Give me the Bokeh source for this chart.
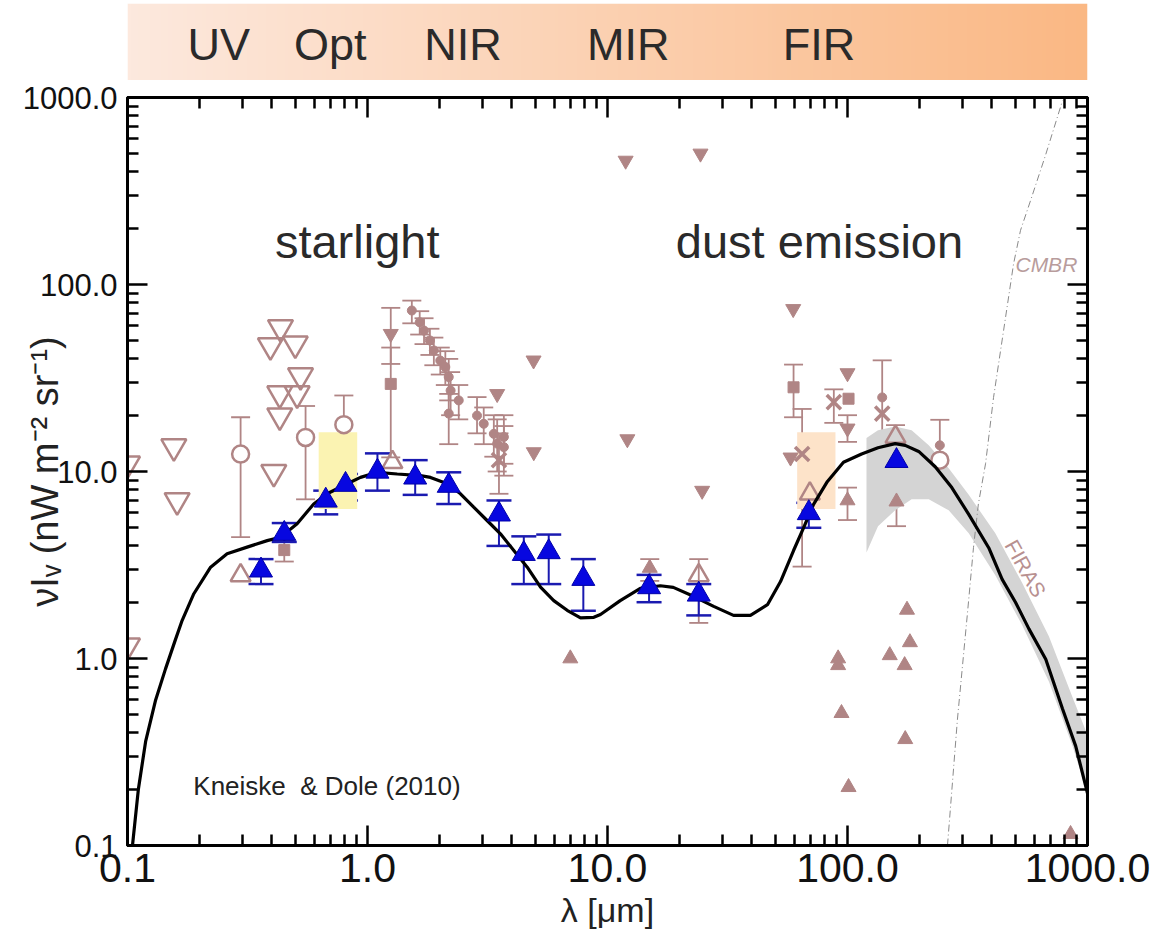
import numpy as np
from math import pi
from bokeh.plotting import figure
from bokeh.layouts import column
from bokeh.models import (FixedTicker, PrintfTickFormatter, LogAxis, Whisker, TeeHead,
                          ColumnDataSource, Label, CustomJSTickFormatter)
from bokeh.embed import file_html
from bokeh.resources import INLINE

# ------------------------------------------------------------------ data
band_labels = ["UV", "Opt", "NIR", "MIR", "FIR"]
band_label_wl = [0.24, 0.70, 2.5, 12.2, 76.0]

x_ticks = [0.1, 1.0, 10.0, 100.0, 1000.0]
y_ticks = [0.1, 1.0, 10.0, 100.0, 1000.0]

# EBL model curve (Kneiske & Dole 2010)
model_wl = [0.104, 0.111, 0.119, 0.131, 0.144, 0.158, 0.169, 0.189, 0.222, 0.260,
            0.315, 0.382, 0.434, 0.509, 0.597, 0.679, 0.823, 0.935, 1.10, 1.33,
            1.66, 1.83, 2.15, 2.44, 2.77, 3.15, 3.58, 4.07, 4.63, 5.26,
            5.97, 6.79, 7.72, 8.77, 9.35, 11.3, 13.7, 16.6, 18.8, 22.8,
            27.7, 33.5, 39.4, 46.4, 52.6, 59.6, 65.6, 72.2, 82.5, 96.2,
            114.5, 134, 158, 174, 198, 232, 272, 320, 388, 441,
            501, 570, 670, 786, 893, 1000]
model_val = [0.09, 0.20, 0.36, 0.60, 0.88, 1.25, 1.60, 2.22, 3.08, 3.63,
             3.94, 4.27, 4.45, 5.25, 6.71, 7.6, 8.6, 9.3, 9.9, 9.7,
             9.5, 9.3, 8.6, 7.6, 6.45, 5.47, 4.64, 3.78, 3.08, 2.41,
             2.04, 1.81, 1.65, 1.66, 1.72, 2.04, 2.37, 2.45, 2.40, 2.15,
             1.90, 1.70, 1.70, 1.94, 2.58, 3.78, 5.0, 6.67, 8.85, 11.2,
             12.4, 13.4, 14.1, 13.8, 12.8, 10.6, 8.2, 5.9, 3.9, 2.65,
             2.0, 1.44, 0.99, 0.54, 0.34, 0.19]

# FIRAS band
firas_wl = [120, 134, 158, 185, 218, 264, 320, 413, 534, 691, 866, 1000]
firas_hi = [15.1, 16.6, 17.4, 16.6, 13.8, 10.4, 7.5, 4.67, 2.54, 1.31, 0.62, 0.39]
firas_lo = [3.69, 5.1, 6.2, 7.1, 7.1, 6.2, 4.67, 2.79, 1.51, 0.75, 0.34, 0.19]

# CMBR
cmb_wl = [261, 287, 316, 335, 351, 376, 406, 447, 492, 526, 579, 668, 787]
cmb_val = [0.1, 0.47, 1.74, 3.93, 6.7, 11.0, 24.9, 56.7, 129, 195, 281, 490, 963]

# lower limits (blue)
blue_wl = [0.36, 0.45, 0.67, 0.81, 1.10, 1.58, 2.18, 3.53, 4.48, 5.69, 7.93, 14.9, 24.0, 69.0, 160]
blue_val = [2.96, 4.65, 7.0, 8.5, 10.0, 9.3, 8.4, 5.9, 3.63, 3.71, 2.67, 2.41, 2.2, 6.0, 11.4]
blue_lo = [2.5, 4.2, 5.9, 7.0, 7.9, 7.5, 6.7, 4.0, 2.5, 2.5, 1.8, 2.0, 1.7, 5.0, 9.0]
blue_hi = [3.4, 5.3, 7.9, 9.7, 12.5, 11.5, 9.9, 7.0, 4.5, 4.6, 3.4, 2.8, 2.5, 6.8, 12.8]

# other measurements / limits (pink)
ocirc_wl = [0.296, 0.552, 0.797, 242.5]
ocirc_val = [12.4, 15.2, 17.8, 11.5]

odtri_wl = [0.1, 0.1, 0.156, 0.161, 0.407, 0.434, 0.394, 0.50, 0.526, 0.431, 0.509, 0.431]
odtri_val = [11.0, 1.17, 13.6, 7.0, 9.9, 59, 47.2, 48.2, 32.6, 26.1, 26.1, 19.9]

outri_wl = [0.296, 1.27, 24.0, 69.7, 158.5]
outri_val = [2.78, 11.2, 2.78, 7.6, 15.3]

dtri_wl = [11.9, 24.4, 4.92, 3.47, 4.93, 12.1, 24.8, 59.4, 1.25, 100, 57.9, 100]
dtri_val = [460, 502, 39.3, 26.0, 12.7, 14.9, 7.9, 74, 54.5, 33.6, 11.9, 17.0]

utri_wl = [7.0, 91.4, 91.4, 94.4, 101, 177, 182, 150, 173, 174, 100, 160, 15.0, 850]
utri_val = [1.0, 1.0, 0.92, 0.51, 0.205, 1.82, 1.22, 1.04, 0.92, 0.37, 7.0, 6.9, 3.05, 0.115]

cross_wl = [64.7, 87.7, 139.5, 3.53]
cross_val = [12.4, 23.5, 20.4, 11.5]

sq_wl = [1.25, 59.6, 101, 0.45]
sq_val = [29.4, 28.2, 24.5, 3.8]

dot_wl = [1.53, 1.65, 1.72, 1.82, 1.89, 2.01, 2.11, 2.18, 2.22, 2.40, 2.18, 2.86, 3.05,
          3.36, 3.47, 3.70, 3.70, 139.5, 242.5]
dot_val = [72.6, 62.8, 56.7, 50.2, 44.4, 39.2, 36.2, 32.0, 27.1, 24.0, 20.4, 19.9, 18.0,
           15.9, 14.1, 15.3, 13.5, 24.9, 13.8]

err_wl = [0.296, 0.552, 0.797, 242.5, 1.25, 59.6, 0.45, 64.7, 87.7, 3.53, 24.0, 158.5,
          69.7, 100, 160, 15.0, 100, 1.25,
          1.53, 1.65, 1.72, 1.82, 1.89, 2.01, 2.11, 2.18, 2.22, 2.40, 2.18, 2.86, 3.05,
          3.36, 3.47, 3.70, 3.70, 139.5]
err_lo = [4.46, 7.1, 8.9, 8.8, 11.9, 19.5, 3.3, 3.1, 18.2, 7.6, 1.55, 13.6,
          6.8, 5.5, 5.1, 2.6, 14.4, 37.6,
          62, 54, 48, 42, 37, 33, 29, 24, 20, 19, 14, 16, 14,
          12, 10, 11, 9.5, 8.8]
err_hi = [19.5, 22.4, 25.5, 18.9, 75, 37.3, 4.3, 21.6, 27.5, 16, 3.4, 17.7,
          8.2, 8.2, 9.0, 3.4, 20.0, 46,
          82, 72, 66, 58, 52, 46, 44, 40, 34, 29, 26, 25, 22,
          20, 19, 20, 17.5, 39.3]

yellow_box = (0.626, 0.906, 6.3, 16.2)
peach_box = (61.7, 89.1, 6.3, 16.2)

# ------------------------------------------------------------------ styles
PINK = "#b08585"
BLUE = "#0707e0"
FONT = "Liberation Sans"

# ------------------------------------------------------------------ band figure
band = figure(width=1150, height=80, x_axis_type="log", x_range=(0.1, 1000), y_range=(0, 1),
              output_backend="svg", toolbar_location=None,
              min_border_left=125, min_border_right=63, min_border_top=3, min_border_bottom=0)
band.axis.visible = False
band.grid.visible = False
band.outline_line_color = None
band.background_fill_color = "white"
band.border_fill_color = "white"

n = 256
t = np.linspace(0.0, 1.0, n)
c0 = np.array([253.0, 233.0, 222.0])
c1 = np.array([250.0, 184.0, 132.0])
rgb = c0[None, :] * (1 - t[:, None]) + c1[None, :] * t[:, None]
img = np.empty((1, n), dtype=np.uint32)
view = img.view(dtype=np.uint8).reshape((1, n, 4))
view[0, :, 0] = rgb[:, 0].astype(np.uint8)
view[0, :, 1] = rgb[:, 1].astype(np.uint8)
view[0, :, 2] = rgb[:, 2].astype(np.uint8)
view[0, :, 3] = 255
band.image_rgba(image=[img], x=0.1, y=0, dw=999.9, dh=1)

for lab, wl in zip(band_labels, band_label_wl):
    band.add_layout(Label(x=wl, y=0.47, text=lab, text_align="center", text_baseline="middle",
                          text_font=FONT, text_font_size="45px", text_color="#2a2a2a"))

# ------------------------------------------------------------------ main figure
p = figure(width=1150, height=852, x_axis_type="log", y_axis_type="log",
           x_range=(0.1, 1000), y_range=(0.1, 1000),
           output_backend="svg", toolbar_location=None,
           min_border_left=127, min_border_right=63, min_border_top=17, min_border_bottom=87)
p.grid.visible = False
p.outline_line_color = "black"
p.outline_line_width = 3
p.background_fill_color = "white"
p.border_fill_color = "white"

minor = [m * 10.0 ** e for e in range(-1, 3) for m in range(2, 10)]
xt = FixedTicker(ticks=x_ticks, minor_ticks=minor)
yt = FixedTicker(ticks=y_ticks, minor_ticks=minor)


def style_axis(ax, labels=True):
    ax.major_tick_in = 20
    ax.major_tick_out = 0
    ax.minor_tick_in = 11
    ax.minor_tick_out = 0
    ax.major_tick_line_width = 2.5
    ax.minor_tick_line_width = 2.5
    ax.major_tick_line_color = "black"
    ax.minor_tick_line_color = "black"
    ax.axis_line_width = 3
    ax.axis_line_color = "black"
    if not labels:
        ax.major_label_text_font_size = "0px"
        ax.major_label_standoff = 0


p.xaxis.ticker = xt
p.yaxis.ticker = yt
p.xaxis.formatter = PrintfTickFormatter(format="%.1f")
p.yaxis.formatter = PrintfTickFormatter(format="%.1f")
style_axis(p.xaxis[0])
style_axis(p.yaxis[0])
p.xaxis.major_label_text_font = FONT
p.xaxis.major_label_text_font_size = "41px"
p.xaxis.major_label_standoff = 8
p.xaxis.major_label_text_color = "#111111"
p.yaxis.major_label_text_font = FONT
p.yaxis.major_label_text_font_size = "31px"
p.yaxis.major_label_standoff = 10
p.yaxis.major_label_text_color = "#111111"

p.xaxis.axis_label = "\u03bb [\u03bcm]"
p.xaxis.axis_label_text_font = FONT
p.xaxis.axis_label_text_font_style = "normal"
p.xaxis.axis_label_text_font_size = "34px"
p.xaxis.axis_label_text_color = "#222222"
p.xaxis.axis_label_standoff = 6

p.yaxis.axis_label = "\u03bdI\u1d65 (nW m\u207b\u00b2 sr\u207b\u00b9)"
p.yaxis.axis_label_text_font = FONT
p.yaxis.axis_label_text_font_style = "normal"
p.yaxis.axis_label_text_font_size = "38px"
p.yaxis.axis_label_text_color = "#222222"
p.yaxis.axis_label_standoff = -46

top_ax = LogAxis(ticker=xt, formatter=CustomJSTickFormatter(code="return ''"))
right_ax = LogAxis(ticker=yt, formatter=CustomJSTickFormatter(code="return ''"))
style_axis(top_ax, labels=False)
style_axis(right_ax, labels=False)
p.add_layout(top_ax, "above")
p.add_layout(right_ax, "right")

# shaded boxes
p.quad(left=[yellow_box[0]], right=[yellow_box[1]], bottom=[yellow_box[2]], top=[yellow_box[3]],
       fill_color="#fbf3b2", line_color=None)
p.quad(left=[peach_box[0]], right=[peach_box[1]], bottom=[peach_box[2]], top=[peach_box[3]],
       fill_color="#fde3c9", line_color=None)

# FIRAS band
p.varea(x=firas_wl, y1=firas_lo, y2=firas_hi, fill_color="#d4d4d4")

# CMBR
p.line(cmb_wl, cmb_val, line_color="#8a8a8a", line_width=1, line_dash="7 3 1 3")

# pink error bars
esrc = ColumnDataSource(dict(x=err_wl, lo=err_lo, hi=err_hi))
p.add_layout(Whisker(source=esrc, base="x", lower="lo", upper="hi", dimension="height",
                     line_color=PINK, line_width=1.8,
                     upper_head=TeeHead(size=19, line_color=PINK, line_width=1.8),
                     lower_head=TeeHead(size=19, line_color=PINK, line_width=1.8)))

# pink markers
p.scatter(odtri_wl, odtri_val, marker="inverted_triangle", size=25, fill_color=None,
          line_color=PINK, line_width=2.5)
p.scatter(outri_wl, outri_val, marker="triangle", size=20, fill_color=None,
          line_color=PINK, line_width=2.5)
p.scatter(ocirc_wl, ocirc_val, marker="circle", size=17, fill_color="white",
          line_color=PINK, line_width=2.5)
p.scatter(dtri_wl, dtri_val, marker="inverted_triangle", size=15, fill_color=PINK,
          line_color=PINK)
p.scatter(utri_wl, utri_val, marker="triangle", size=15, fill_color=PINK, line_color=PINK)
p.scatter(cross_wl, cross_val, marker="x", size=20, line_color=PINK, line_width=3.5)
p.scatter(sq_wl, sq_val, marker="square", size=11, fill_color=PINK, line_color=PINK)
p.scatter(dot_wl, dot_val, marker="circle", size=9, fill_color=PINK, line_color=PINK)

# model curve
p.line(model_wl, model_val, line_color="black", line_width=3.2)

# blue lower limits
bsrc = ColumnDataSource(dict(x=blue_wl, y=blue_val, lo=blue_lo, hi=blue_hi))
p.add_layout(Whisker(source=bsrc, base="x", lower="lo", upper="hi", dimension="height",
                     line_color="#1a1ab0", line_width=2,
                     upper_head=TeeHead(size=25, line_color="#1a1ab0", line_width=2.5),
                     lower_head=TeeHead(size=25, line_color="#1a1ab0", line_width=2.5)))
p.scatter("x", "y", source=bsrc, marker="triangle", size=23, fill_color=BLUE,
          line_color="#0000a8", line_width=1)

# texts
p.add_layout(Label(x=0.906, y=170, text="starlight", text_align="center", text_baseline="middle",
                   text_font=FONT, text_font_size="47px", text_color="#2a2a2a"))
p.add_layout(Label(x=76.4, y=170, text="dust emission", text_align="center", text_baseline="middle",
                   text_font=FONT, text_font_size="47px", text_color="#2a2a2a"))
p.add_layout(Label(x=0.188, y=0.208, text="Kneiske\u00a0 & Dole (2010)", text_align="left",
                   text_baseline="middle", text_font=FONT, text_font_size="26px",
                   text_color="#222222"))
p.add_layout(Label(x=501, y=128, text="CMBR", text_align="left", text_baseline="middle",
                   text_font=FONT, text_font_style="italic", text_font_size="21px",
                   text_color="#b89c9c"))
p.add_layout(Label(x=552, y=3.03, text="FIRAS", text_align="center", text_baseline="middle",
                   angle=-1.065, text_font=FONT, text_font_size="21px", text_color="#b89090"))

layout = column(band, p, spacing=0)
open("out.html", "w").write(file_html(layout, INLINE))
